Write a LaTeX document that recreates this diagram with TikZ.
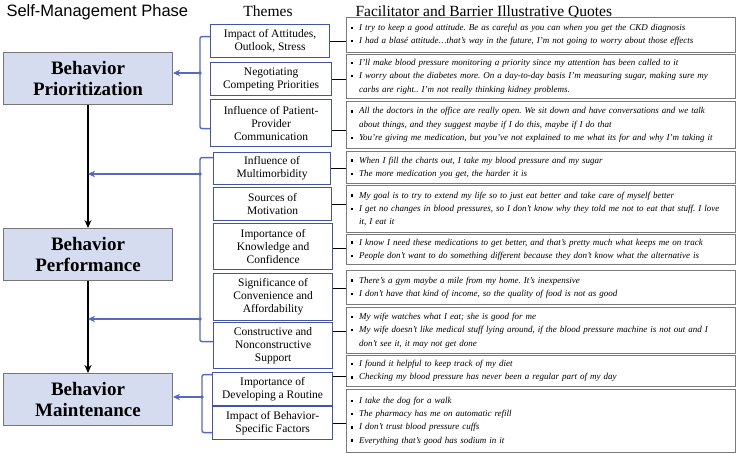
\documentclass[tikz,border=0pt]{standalone}
\usepackage{fontspec}
\setmainfont{Liberation Serif}
\setsansfont{Liberation Sans}
\usetikzlibrary{arrows.meta,positioning}
\definecolor{phasefill}{HTML}{D6DCF0}
\definecolor{phaseline}{HTML}{767676}
\definecolor{themeblue}{HTML}{4354A8}
\definecolor{linkblue}{HTML}{5668C2}
\definecolor{quotegray}{HTML}{7A7A7A}
\frenchspacing
\newcommand\qb{\makebox[8pt][l]{\rule[1.4pt]{2.4pt}{2.4pt}}}
\newcommand\qc{\hspace*{8pt}}
\tikzset{
  phasebox/.style={draw=phaseline,line width=1pt,fill=phasefill,anchor=north west,
    minimum width=169,minimum height=52,align=center,
    font=\fontsize{19}{21}\selectfont\bfseries},
  themebox/.style={draw=themeblue,line width=1.2pt,fill=white,anchor=north west,
    minimum width=120,align=center,inner sep=1pt,
    font=\fontsize{11.5}{13}\selectfont},
  quotebox/.style={draw=quotegray,line width=1.1pt,fill=white,anchor=north west,
    minimum width=389,text width=380,inner xsep=4.5pt,inner ysep=1pt,align=left,
    font=\fontsize{9}{13.3}\selectfont\itshape},
  bracket/.style={draw=linkblue,line width=1.4pt,rounded corners=2pt},
  bluearrow/.style={draw=linkblue,line width=1.4pt,-{Stealth[length=7pt,width=6.5pt]}},
  phasearrow/.style={line width=1.6pt,-{Stealth[length=8pt,width=7pt]}},
  heading/.style={anchor=base west}
}
\begin{document}
\begin{tikzpicture}[x=1pt,y=-1pt]
\useasboundingbox (0,0) rectangle (738,453);
% headings
\node[heading,font=\fontsize{16.5}{18}\selectfont\sffamily] (hphase) at (3,16) {Self-Management Phase};
\node[anchor=base,font=\fontsize{15.5}{18}\selectfont] (htheme) at (268,16) {Themes};
\node[heading,font=\fontsize{15.5}{18}\selectfont] (hquote) at (352,16) {Facilitator and Barrier Illustrative Quotes};
% phases
\node[phasebox] (p1) at (3,52) {Behavior\\Prioritization};
\node[phasebox] (p2) at (3,228) {Behavior\\Performance};
\node[phasebox] (p3) at (3,373) {Behavior\\Maintenance};
\draw[phasearrow] (p1) -- (p2);
\draw[phasearrow] (p2) -- (p3);
% themes
\node[themebox,minimum width=119,minimum height=33] (t1) at (210,24) {Impact of Attitudes,\\Outlook, Stress};
\node[themebox,minimum width=121,minimum height=33] (t2) at (210,62) {Negotiating\\Competing Priorities};
\node[themebox,minimum width=121,minimum height=47] (t3) at (210,99) {Influence of Patient-\\Provider\\Communication};
\node[themebox,minimum width=117,minimum height=32] (t4) at (213,152) {Influence of\\Multimorbidity};
\node[themebox,minimum width=118,minimum height=33] (t5) at (213,187) {Sources of\\Motivation};
\node[themebox,minimum width=119,minimum height=46] (t6) at (213,223) {Importance of\\Knowledge and\\Confidence};
\node[themebox,minimum width=119,minimum height=47] (t7) at (213,273) {Significance of\\Convenience and\\Affordability};
\node[themebox,minimum width=119,minimum height=46] (t8) at (213,322) {Constructive and\\Nonconstructive\\Support};
\node[themebox,minimum width=120,minimum height=33] (t9) at (212,372) {Importance of\\Developing a Routine};
\node[themebox,minimum width=120,minimum height=33] (t10) at (212,406) {Impact of Behavior-\\Specific Factors};
% quotes
\node[quotebox,minimum height=35] (q1) at (346,17) {\qb I try to keep a good attitude. Be as careful as you can when you get the CKD diagnosis\\
  \qb I had a blasé attitude…that’s way in the future, I’m not going to worry about those effects};
\node[quotebox,minimum height=44] (q2) at (346,54) {\qb I’ll make blood pressure monitoring a priority since my attention has been called to it\\
  \qb I worry about the diabetes more. On a day-to-day basis I’m measuring sugar, making sure my\\
  \qc carbs are right.. I’m not really thinking kidney problems.};
\node[quotebox,minimum height=47] (q3) at (346,101) {\qb All the doctors in the office are really open. We sit down and have conversations and we talk\\
  \qc about things, and they suggest maybe if I do this, maybe if I do that\\
  \qb You’re giving me medication, but you’ve not explained to me what its for and why I’m taking it};
\node[quotebox,minimum height=32] (q4) at (346,151) {\qb When I fill the charts out, I take my blood pressure and my sugar\\
  \qb The more medication you get, the harder it is};
\node[quotebox,minimum height=47] (q5) at (346,185) {\qb My goal is to try to extend my life so to just eat better and take care of myself better\\
  \qb I get no changes in blood pressures, so I don’t know why they told me not to eat that stuff. I love\\
  \qc it, I eat it};
\node[quotebox,minimum height=30] (q6) at (346,234) {\qb I know I need these medications to get better, and that’s pretty much what keeps me on track\\
  \qb People don’t want to do something different because they don’t know what the alternative is};
\node[quotebox,minimum height=34] (q7) at (346,270) {\qb There’s a gym maybe a mile from my home. It’s inexpensive\\
  \qb I don’t have that kind of income, so the quality of food is not as good};
\node[quotebox,minimum height=46] (q8) at (346,307) {\qb My wife watches what I eat; she is good for me\\
  \qb My wife doesn’t like medical stuff lying around, if the blood pressure machine is not out and I\\
  \qc don’t see it, it may not get done};
\node[quotebox,minimum height=31] (q9) at (346,355) {\qb I found it helpful to keep track of my diet\\
  \qb Checking my blood pressure has never been a regular part of my day};
\node[quotebox,minimum height=63] (q10) at (346,389) {\qb I take the dog for a walk\\
  \qb The pharmacy has me on automatic refill\\
  \qb I don’t trust blood pressure cuffs\\
  \qb Everything that’s good has sodium in it};
% theme to quote links
\foreach \n/\dy in {1/0,2/0,3/-7.5,4/0,5/0,6/-2,7/8.5,8/14,9/12.5,10/0}
  \draw[line width=1pt] ([yshift=\dy]t\n.east) -- ([yshift=\dy]t\n.east -| q\n.west);
% brackets
\path (200,73) coordinate (g1) (200,174) coordinate (g2a) (200,319) coordinate (g2b) (202,397) coordinate (g3);
\draw[bracket] ([yshift=4.5]t1.west) -| (g1) |- ([yshift=-5.5]t3.west);
\draw[bracket] ([yshift=11]t4.west) -| (g2a) -- (g2b) |- ([yshift=4]t8.west);
\draw[bracket] ([yshift=14.5]t9.west) -| (g3) |- ([yshift=-9.5]t10.west);
\draw[bluearrow] (g1) -- (g1 -| p1.east);
\draw[bluearrow] (g2a) -- (g2a -| p1.south);
\draw[bluearrow] (g2b) -- (g2b -| p1.south);
\draw[bluearrow] (g3) -- (g3 -| p3.east);
\foreach \g in {g1,g2a,g2b,g3} \fill[linkblue] (\g) circle (1.8);
\end{tikzpicture}
\end{document}
